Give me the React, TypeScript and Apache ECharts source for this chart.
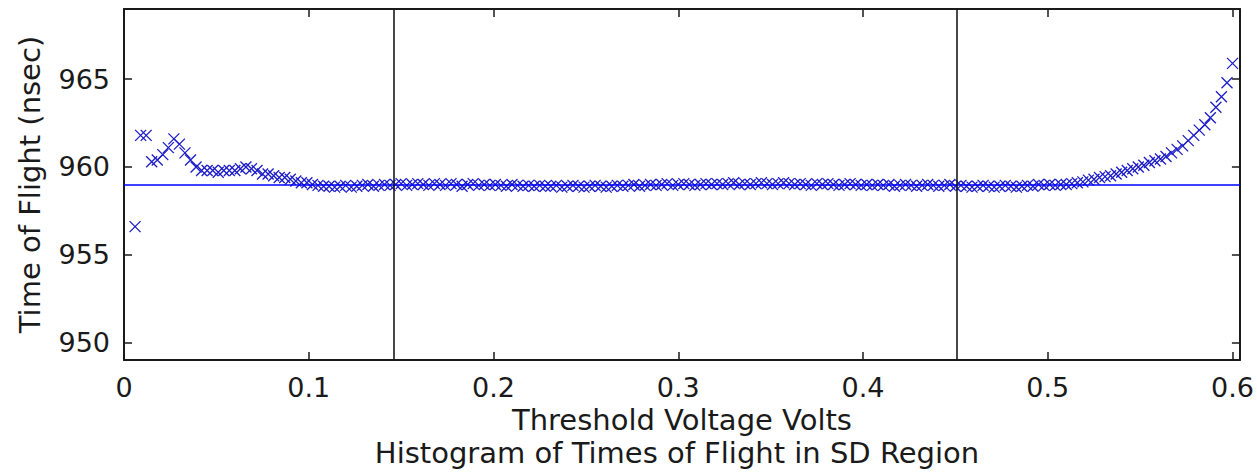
import React, { useEffect, useRef } from "react";
import * as echarts from "echarts";

// Threshold voltage scan (volts)
const voltages = [
  0.006, 0.009, 0.012, 0.015, 0.018, 0.021, 0.024, 0.027, 0.030, 0.033,
  0.036, 0.039, 0.042, 0.045, 0.048, 0.051, 0.054, 0.057, 0.060, 0.063,
  0.066, 0.069, 0.072, 0.075, 0.078, 0.081, 0.084, 0.087, 0.090, 0.093,
  0.096, 0.099, 0.102, 0.105, 0.108, 0.111, 0.114, 0.117, 0.120, 0.123,
  0.126, 0.129, 0.132, 0.135, 0.138, 0.141, 0.144, 0.147, 0.150, 0.153,
  0.156, 0.159, 0.162, 0.165, 0.168, 0.171, 0.174, 0.177, 0.180, 0.183,
  0.186, 0.189, 0.192, 0.195, 0.198, 0.201, 0.204, 0.207, 0.210, 0.213,
  0.216, 0.219, 0.222, 0.225, 0.228, 0.231, 0.234, 0.237, 0.240, 0.243,
  0.246, 0.249, 0.252, 0.255, 0.258, 0.261, 0.264, 0.267, 0.270, 0.273,
  0.276, 0.279, 0.282, 0.285, 0.288, 0.291, 0.294, 0.297, 0.300, 0.303,
  0.306, 0.309, 0.312, 0.315, 0.318, 0.321, 0.324, 0.327, 0.330, 0.333,
  0.336, 0.339, 0.342, 0.345, 0.348, 0.351, 0.354, 0.357, 0.360, 0.363,
  0.366, 0.369, 0.372, 0.375, 0.378, 0.381, 0.384, 0.387, 0.390, 0.393,
  0.396, 0.399, 0.402, 0.405, 0.408, 0.411, 0.414, 0.417, 0.420, 0.423,
  0.426, 0.429, 0.432, 0.435, 0.438, 0.441, 0.444, 0.447, 0.450, 0.453,
  0.456, 0.459, 0.462, 0.465, 0.468, 0.471, 0.474, 0.477, 0.480, 0.483,
  0.486, 0.489, 0.492, 0.495, 0.498, 0.501, 0.504, 0.507, 0.510, 0.513,
  0.516, 0.519, 0.522, 0.525, 0.528, 0.531, 0.534, 0.537, 0.540, 0.543,
  0.546, 0.549, 0.552, 0.555, 0.558, 0.561, 0.564, 0.567, 0.570, 0.573,
  0.576, 0.579, 0.582, 0.585, 0.588, 0.591, 0.594, 0.597, 0.600,
];

// Mean time of flight at each threshold (nsec)
const timesOfFlight = [
  956.6, 961.8, 961.8, 960.3, 960.4, 960.7, 961.1, 961.6, 961.3, 960.8,
  960.4, 960.0, 959.8, 959.8, 959.8, 959.7, 959.8, 959.8, 959.8, 959.9,
  960.0, 959.9, 959.8, 959.6, 959.6, 959.5, 959.4, 959.4, 959.3, 959.2,
  959.1, 959.1, 959.0, 958.95, 958.9, 958.9, 958.85, 958.9, 958.95, 958.85,
  958.9, 958.95, 959.0, 958.9, 958.95, 959.0, 958.95, 959.0, 959.05, 958.95,
  959.0, 959.05, 959.0, 958.95, 959.05, 959.0, 958.95, 959.05, 959.0, 958.9,
  959.0, 959.05, 958.95, 959.0, 958.95, 959.0, 958.95, 958.9, 959.0, 958.95,
  958.9, 958.95, 958.9, 958.95, 958.9, 958.9, 958.95, 958.85, 958.9, 958.95,
  958.9, 958.85, 958.9, 958.95, 958.9, 958.85, 958.9, 958.95, 958.9, 958.95,
  959.0, 958.9, 958.95, 959.0, 958.95, 959.0, 959.05, 958.95, 959.0, 959.05,
  959.0, 958.95, 959.0, 959.05, 959.0, 959.05, 959.0, 959.05, 959.1, 959.0,
  959.05, 959.0, 959.05, 959.1, 959.05, 959.0, 959.05, 959.1, 959.05, 959.0,
  959.05, 959.0, 958.95, 959.05, 959.0, 959.05, 959.0, 958.95, 959.0, 959.05,
  959.0, 958.95, 959.0, 958.95, 959.0, 958.95, 959.0, 958.9, 958.95, 959.0,
  958.95, 958.9, 958.95, 959.0, 958.95, 958.9, 958.95, 959.0, 958.9, 958.95,
  958.9, 958.85, 958.9, 958.95, 958.9, 958.85, 958.9, 958.95, 958.9, 958.85,
  958.9, 958.95, 958.9, 959.0, 958.95, 959.0, 958.95, 959.0, 959.0, 959.05,
  959.1, 959.15, 959.25, 959.3, 959.4, 959.45, 959.5, 959.6, 959.7, 959.8,
  959.9, 960.0, 960.1, 960.25, 960.35, 960.45, 960.6, 960.8, 961.0, 961.2,
  961.5, 961.8, 962.1, 962.4, 962.8, 963.4, 964.0, 964.8, 965.9,
];

// Boundaries of the SD region (volts) and the overall mean (nsec)
const regionBounds = [0.146, 0.451];
const meanTime = 959.0;

// Axis ranges and tick labels
const xRange = [0, 0.604];
const yRange = [949, 969];
const xTicks = [0, 0.1, 0.2, 0.3, 0.4, 0.5, 0.6];
const yTicks = [950, 955, 960, 965];

const TITLE = "Histogram of Times of Flight in SD Region";
const X_NAME = "Threshold Voltage Volts";
const Y_NAME = "Time of Flight (nsec)";

const FONT = "DejaVu Sans";
const INK = "#1a1a1a";

export default function App() {
  const ref = useRef<HTMLDivElement>(null);

  useEffect(() => {
    if (!ref.current) return;
    const chart = echarts.init(ref.current, null, { renderer: "svg" });

    const frameLine = { show: true, onZero: false, lineStyle: { color: INK, width: 2 } };
    const innerTick = (vals: number[]) => ({
      show: true,
      inside: true,
      length: 8,
      customValues: vals,
      lineStyle: { color: INK, width: 1.5 },
    });

    chart.setOption({
      animation: false,
      backgroundColor: "#ffffff",
      grid: { left: 124, right: 16, top: 9, bottom: 112, containLabel: false },
      graphic: [
        {
          type: "text",
          x: 677,
          y: 453,
          style: {
            text: TITLE,
            font: `29px "${FONT}"`,
            fill: INK,
            textAlign: "center",
            textVerticalAlign: "middle",
          },
        },
      ],
      xAxis: [
        {
          type: "value",
          min: xRange[0],
          max: xRange[1],
          position: "bottom",
          axisLine: frameLine,
          axisTick: innerTick(xTicks),
          splitLine: { show: false },
          axisLabel: {
            customValues: xTicks,
            formatter: (v: number) => String(Number(v.toFixed(1))),
            fontFamily: FONT,
            fontSize: 27,
            color: INK,
            margin: 14,
          },
          name: X_NAME,
          nameLocation: "middle",
          nameGap: 44,
          nameTextStyle: { fontFamily: FONT, fontSize: 29, color: INK },
        },
        {
          type: "value",
          min: xRange[0],
          max: xRange[1],
          position: "top",
          axisLine: frameLine,
          axisTick: innerTick(xTicks),
          axisLabel: { show: false },
          splitLine: { show: false },
        },
      ],
      yAxis: [
        {
          type: "value",
          min: yRange[0],
          max: yRange[1],
          position: "left",
          axisLine: frameLine,
          axisTick: innerTick(yTicks),
          splitLine: { show: false },
          axisLabel: {
            customValues: yTicks,
            fontFamily: FONT,
            fontSize: 27,
            color: INK,
            margin: 14,
          },
          name: Y_NAME,
          nameLocation: "middle",
          nameRotate: 90,
          nameGap: 80,
          nameTextStyle: { fontFamily: FONT, fontSize: 29, color: INK },
        },
        {
          type: "value",
          min: yRange[0],
          max: yRange[1],
          position: "right",
          axisLine: frameLine,
          axisTick: innerTick(yTicks),
          axisLabel: { show: false },
          splitLine: { show: false },
        },
      ],
      series: [
        {
          type: "scatter",
          xAxisIndex: 0,
          yAxisIndex: 0,
          data: voltages.map((v, i) => [v, timesOfFlight[i]]),
          symbol: "path://M0,0L10,10M0,10L10,0",
          symbolSize: 11,
          itemStyle: { color: "none", borderColor: "#1c1cc8", borderWidth: 1.3, opacity: 1 },
          emphasis: { disabled: true },
          markLine: {
            silent: true,
            symbol: "none",
            precision: 4,
            animation: false,
            label: { show: false },
            emphasis: { disabled: true },
            data: [
              { yAxis: meanTime, lineStyle: { color: "#0000ff", width: 1.6, type: "solid" } },
              ...regionBounds.map((b) => ({
                xAxis: b,
                lineStyle: { color: INK, width: 1.6, type: "solid" },
              })),
            ],
          },
        },
      ],
    });

    return () => chart.dispose();
  }, []);

  return (
    <div
      ref={ref}
      style={{ position: "absolute", left: 0, top: 0, width: 1257, height: 472, background: "#fff" }}
    />
  );
}
